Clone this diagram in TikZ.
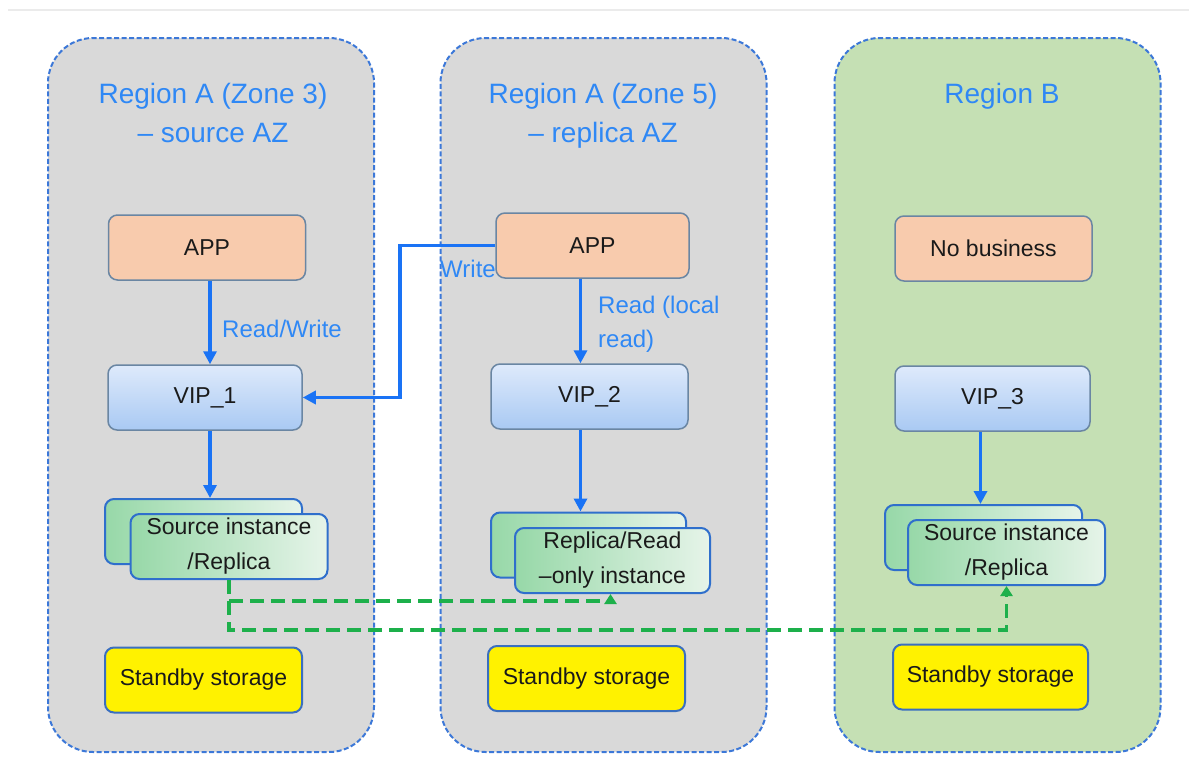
\documentclass[tikz,border=0pt]{standalone}
\usepackage{fontspec}
\setmainfont{Liberation Sans}
\usetikzlibrary{arrows.meta,calc}
\definecolor{regfill}{HTML}{D9D9D9}
\definecolor{regfillg}{HTML}{C5E0B4}
\definecolor{regline}{HTML}{3C78D8}
\definecolor{titleblue}{HTML}{2F88F5}
\definecolor{arrblue}{HTML}{1A73F5}
\definecolor{appfill}{HTML}{F8CBAD}
\definecolor{appline}{HTML}{6A86A3}
\definecolor{viptop}{HTML}{DEEAFB}
\definecolor{vipbot}{HTML}{A9C9F3}
\definecolor{instL}{HTML}{97D8A8}
\definecolor{instR}{HTML}{E6F4E9}
\definecolor{instline}{HTML}{2F6FCC}
\definecolor{dashgreen}{HTML}{1DB04B}
\definecolor{stbline}{HTML}{3A6FC0}
\definecolor{txt}{HTML}{1A1A1A}
\begin{document}
\begin{tikzpicture}[x=1pt,y=-1pt,
  region/.style={draw=regline, line width=2pt, dash pattern=on 5pt off 2.5pt,
    rounded corners=45pt, fill=regfill, minimum width=326pt, minimum height=714pt, inner sep=0pt},
  title/.style={text=titleblue, align=center, font=\fontsize{28}{39}\selectfont},
  lbl/.style={text=titleblue, align=left, font=\fontsize{24}{34}\selectfont, inner sep=0pt},
  box/.style={rounded corners=9pt, line width=1.5pt, minimum width=197pt, minimum height=65pt,
    inner sep=0pt, align=center, text=txt, font=\fontsize{23}{35}\selectfont},
  appbox/.style={box, draw=appline, fill=appfill},
  vipbox/.style={box, draw=appline, top color=viptop, bottom color=vipbot},
  instbox/.style={box, draw=instline, line width=2pt, left color=instL, right color=instR},
  stbbox/.style={box, draw=stbline, line width=2pt, fill=yellow},
  arr/.style={draw=arrblue, line width=3.5pt, -{Triangle[length=13pt,width=13pt]}},
  gdash/.style={draw=dashgreen, line width=3.5pt, dash pattern=on 14pt off 7pt,
    -{Triangle[length=10pt,width=12pt]}}
]
\useasboundingbox (0,0) rectangle (1189,763);
\draw[line width=2.5pt, color=black!8] (8,10) -- (1189,10);

% regions
\node[region] (r1) at (211,395) {};
\node[region] (r2) at (603.5,395) {};
\node[region, fill=regfillg] (r3) at (997.5,395) {};

\node[title] (t1) at (213,113) {Region A (Zone 3)\\– source AZ};
\node[title] (t2) at (603,116) {Region A (Zone 5)\\– replica AZ};
\node[title] (t3) at (1002,96) {Region B};

% labels
\node[lbl, anchor=west] (l1) at (222,329) {Read/Write};
\node[lbl, anchor=west] (l2) at (598,324) {Read (local\\read)};
\node[lbl, anchor=east] (l3) at (496,269) {Write};

% region 1
\node[appbox] (app1) at (207,247.5) {APP};
\node[vipbox, minimum width=194pt] (vip1) at (205,397.5) {VIP\_1};
\node[instbox] (src1b) at (203.5,531.5) {};
\node[instbox] (src1) at (229,546.5) {Source instance\\/Replica};
\node[stbbox] (stb1) at (203.5,680) {Standby storage};

% region 2
\node[appbox, minimum width=193pt] (app2) at (592.5,245.5) {APP};
\node[vipbox] (vip2) at (589.5,396.5) {VIP\_2};
\node[instbox, minimum width=195pt] (rep2b) at (588.5,545) {};
\node[instbox, minimum width=195pt] (rep2) at (612.5,560.5) {Replica/Read\\–only instance};
\node[stbbox] (stb2) at (586.5,678.5) {Standby storage};

% region 3
\node[appbox] (app3) at (993.5,248.5) {No business};
\node[vipbox, minimum width=195pt] (vip3) at (992.5,398.5) {VIP\_3};
\node[instbox] (src3b) at (983.5,537.5) {};
\node[instbox] (src3) at (1006.5,552.5) {Source instance\\/Replica};
\node[stbbox, minimum width=195pt] (stb3) at (990.5,677) {Standby storage};

% blue connectors
\draw[arr] ([xshift=3pt]app1.south) -- ([xshift=3pt]app1.south |- vip1.north);
\draw[arr] ([xshift=5pt]vip1.south) -- ([xshift=5pt]vip1.south |- src1b.north);
\coordinate (wbend) at (400,397.5);
\draw[arr] (app2.west) -| (wbend) -- (vip1.east);
\draw[arr] ([xshift=-12pt]app2.south) -- ([xshift=-12pt]app2.south |- vip2.north);
\draw[arr] ([xshift=-9pt]vip2.south) -- ([xshift=-9pt]vip2.south |- rep2b.north);
\draw[arr] ([xshift=-12pt]vip3.south) -- ([xshift=-12pt]vip3.south |- src3b.north);

% green dashed connectors
\path (src1.south) ++(0,21) coordinate (g1);
\path (src1.south) ++(0,50) coordinate (g2);
\draw[gdash] (src1.south) -- (g1) -| ([xshift=-2pt]rep2.south);
\draw[gdash] (src1.south) -- (g2) -| (src3.south);
\end{tikzpicture}
\end{document}
